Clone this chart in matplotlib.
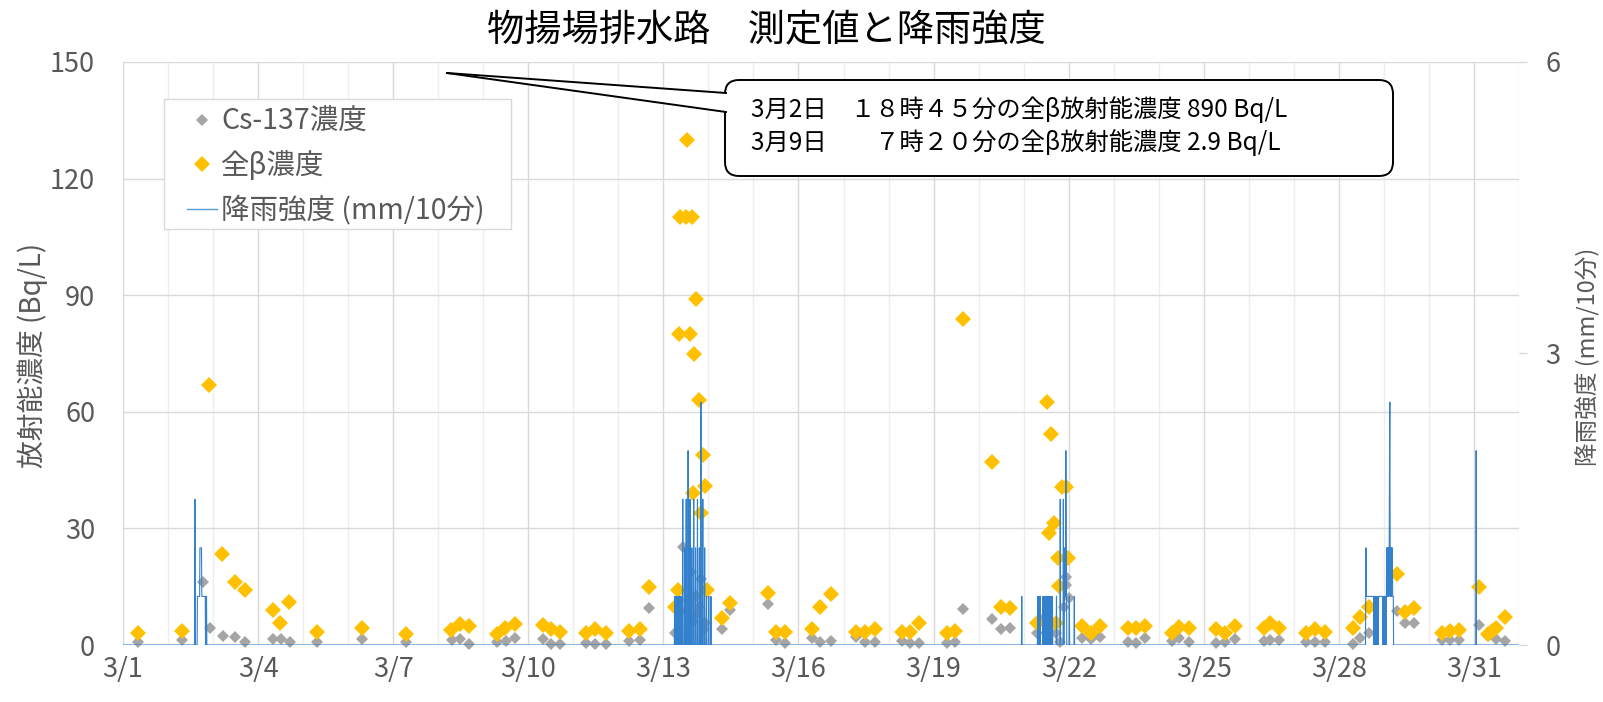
import numpy as np
import matplotlib.pyplot as plt
from matplotlib.lines import Line2D
from matplotlib.patches import FancyBboxPatch, Polygon, Rectangle
from matplotlib.transforms import IdentityTransform

plt.rcParams['font.family'] = ['Noto Sans CJK JP', 'DejaVu Sans']

W, H = 1603, 702

# x values are days since 3/1 00:00
tick_days = [0, 3, 6, 9, 12, 15, 18, 21, 24, 27, 30]
tick_labels = ['3/1', '3/4', '3/7', '3/10', '3/13', '3/16', '3/19', '3/22', '3/25', '3/28', '3/31']

# 全β濃度 (Bq/L)
beta_day = [0.33, 1.32, 1.92, 2.20, 2.49, 2.71, 3.32, 3.48, 3.69, 4.31, 5.30, 6.29,
            7.29, 7.48, 7.68, 8.31, 8.48, 8.71, 9.33, 9.51, 9.70, 10.29, 10.49, 10.72,
            11.23, 11.49, 11.69,
            12.25, 12.32, 12.34, 12.38, 12.51, 12.53, 12.58, 12.64, 12.65, 12.69, 12.73,
            12.78, 12.84, 12.87, 12.93, 12.97, 13.30, 13.48,
            14.32, 14.49, 14.70, 15.30, 15.48, 15.72, 16.28, 16.48, 16.71, 17.30, 17.48,
            17.68, 18.29, 18.48, 18.65, 19.29, 19.49, 19.70,
            20.29, 20.51, 20.57, 20.61, 20.68, 20.72, 20.77, 20.79, 20.85, 20.95, 20.99,
            21.30, 21.49, 21.69,
            22.31, 22.49, 22.70, 23.29, 23.45, 23.67, 24.27, 24.47, 24.70, 25.34, 25.46,
            25.67, 26.26, 26.47, 26.69, 27.31, 27.48, 27.68, 28.30, 28.47, 28.67, 29.28,
            29.46, 29.67, 30.11, 30.32, 30.40, 30.48, 30.69]
beta_val = [3.0, 3.7, 67, 23.3, 16.1, 14.1, 8.9, 5.7, 11.1, 3.3, 4.4, 2.9,
            3.9, 5.4, 5.0, 2.8, 4.3, 5.3, 5.1, 4.0, 3.4, 3.2, 4.0, 3.0,
            3.6, 4.1, 15.0,
            9.7, 14.1, 80, 110, 110, 130, 80, 110, 39, 75, 89,
            63, 34, 49, 41, 14.1, 6.9, 10.7,
            13.3, 3.4, 3.4, 4.1, 9.9, 13.1, 3.3, 3.4, 4.1, 3.4, 3.4,
            5.7, 3.0, 3.7, 84, 47, 9.9, 9.4,
            5.6, 62.5, 28.7, 54.4, 31.5, 5.6, 22.3, 15.3, 40.6, 40.6, 22.3,
            4.8, 3.2, 4.9,
            4.3, 4.3, 4.9, 3.2, 4.7, 4.3, 4.0, 3.2, 4.9, 4.5, 5.7,
            4.3, 3.0, 4.0, 3.4, 4.5, 7.1, 9.9, 18.2, 8.6, 9.4, 3.0,
            3.7, 3.9, 15.0, 2.8, 3.6, 4.4, 7.1]

# Cs-137濃度 (Bq/L)
cs_day = [0.33, 1.32, 1.78, 1.94, 2.21, 2.49, 2.71, 3.32, 3.50, 3.71, 4.31, 5.30, 6.29,
          7.31, 7.49, 7.68, 8.31, 8.50, 8.71, 9.33, 9.51, 9.70, 10.29, 10.49, 10.72,
          11.23, 11.49, 11.69,
          12.25, 12.43, 12.50, 12.55, 12.60, 12.62, 12.65, 12.70, 12.73, 12.78, 12.84,
          12.90, 12.92, 13.30, 13.48,
          14.32, 14.49, 14.70, 15.30, 15.48, 15.72, 16.28, 16.48, 16.71, 17.30, 17.48,
          17.68, 18.29, 18.48, 18.66, 19.29, 19.49, 19.70,
          20.29, 20.40, 20.72, 20.80, 20.90, 20.93, 20.95, 21.00, 21.30, 21.49, 21.69,
          22.31, 22.49, 22.70, 23.29, 23.45, 23.67, 24.27, 24.47, 24.70, 25.34, 25.46,
          25.67, 26.26, 26.47, 26.69, 27.31, 27.48, 27.68, 28.29, 28.47, 28.67, 29.28,
          29.46, 29.67, 30.11, 30.32, 30.48, 30.69]
cs_val = [0.9, 1.3, 16.1, 4.3, 2.3, 2.1, 0.9, 1.5, 1.5, 0.9, 0.9, 1.5, 0.9,
          1.3, 1.5, 0.2, 0.9, 1.1, 1.9, 1.5, 0.3, 0.3, 0.6, 0.2, 0.3,
          1.0, 1.3, 9.6,
          3.0, 25.2, 8.7, 11.7, 10.7, 18.9, 5.9, 7.7, 12.7, 9.9, 16.9,
          4.1, 5.6, 4.2, 9.0,
          10.5, 1.3, 0.4, 1.7, 0.7, 1.0, 2.0, 0.7, 0.7, 1.0, 0.4,
          0.4, 0.4, 0.7, 9.2, 6.6, 4.0, 4.4,
          3.0, 6.4, 3.0, 0.9, 9.9, 17.5, 15.4, 12.0, 1.7, 1.5, 2.0,
          0.9, 0.6, 1.7, 1.1, 1.9, 0.9, 0.6, 0.9, 1.5, 1.1, 1.3,
          1.3, 0.7, 0.9, 0.9, 0.3, 1.7, 3.0, 8.8, 5.6, 5.6, 1.3,
          1.3, 1.3, 5.1, 2.2, 1.5, 1.1]

# 降雨強度 (mm/10分): start day of each rain spell and its 10-minute values
rain_start = [1.60, 1.65, 12.25, 19.958, 20.31, 20.81, 27.597, 30.049]
rain_values = [
    [1.5],
    [0.5, 0.5, 0.5, 0.5, 0.5, 0.5, 0.5, 0.5, 1.0, 1.0, 1.0, 1.0, 1.0, 1.0, 0.5, 0.5,
     0.5, 0.5, 0.5, 0.5, 0.5, 0.5, 0.5, 0.5, 0.5, 0.5, 0, 0.5, 0, 0.5],
    [0.5, 0, 0.5, 0, 0, 0.5, 0, 0.5, 0, 0, 0.5, 0, 0.5, 0, 0, 0.5, 0, 0.5, 0, 0,
     0.5, 0, 0.5, 0, 0, 0.5,
     1.5, 0, 0, 0, 0, 0, 1.0, 0, 0, 0, 0, 1.5, 0, 0, 0, 0, 0, 2.0, 0, 0, 0, 0, 0,
     1.5, 0, 0, 0, 0, 0, 1.0, 0, 0, 0, 0, 0, 1.5, 0, 0, 0, 0, 0, 1.0, 0, 0, 0, 0, 0,
     1.5, 0, 0, 0, 0, 0, 1.0, 0, 0, 0, 0, 2.5, 0, 0, 0, 0, 0, 1.5, 0, 0, 0, 0, 0,
     1.0, 0, 0, 0, 0, 0, 0.5, 0, 0, 0, 0, 0, 0, 0.5, 0, 0, 0, 0, 0, 0, 0.5],
    [0.5],
    [0.5, 0, 0, 0.5, 0, 0, 0.5, 0, 0.5, 0, 0, 0, 0, 0, 0, 0, 0, 0.5, 0, 0, 0.5, 0.5,
     0, 0, 0.5, 0, 0, 0.5, 0, 0.5, 0, 0, 0.5, 0, 0, 0.5, 0.5, 0, 0, 0.5, 0, 0, 0.5, 0,
     0.5, 0, 0, 0.5, 0, 0, 0, 0, 0, 0, 0, 0, 0, 0, 0, 0, 0.5],
    [1.5, 0, 0, 0, 0, 0, 0, 0, 0, 0, 1.5, 0, 0, 0.5, 1.0, 1.0, 1.0, 0.5, 2.0, 1.0, 0.5,
     0, 0, 0, 0, 0, 0, 0, 0, 0.5, 0, 0, 0, 0, 0, 0, 0, 0, 0, 0, 0, 0, 0, 0, 0, 0.5],
    [0.5, 1.0, 0.5, 0.5, 0.5, 0.5, 0.5, 0.5, 0.5, 0.5, 0.5, 0.5, 0.5, 0.5, 0.5, 0.5,
     0.5, 0.5, 0.5, 0.5, 0.5, 0.5, 0.5, 0.5, 0.5, 0.5,
     0, 0.5, 0, 0.5, 0, 0.5, 0, 0.5, 0, 0.5, 0, 0.5, 0, 0.5, 0, 0.5,
     0.5, 0.5, 0.5, 0.5, 0.5, 0.5, 0.5, 0.5, 0.5, 0.5, 0.5, 0.5, 0.5,
     0, 0.5, 0, 0.5, 0, 0.5, 0, 0.5, 0, 0.5, 0, 0.5,
     1.0, 0.5, 1.0, 1.0, 0.5, 1.0, 1.0, 0.5, 1.0, 2.0, 2.5, 1.0, 0.5, 1.0, 1.0, 0.5,
     1.0, 1.0, 1.0, 0.5, 0.5, 0.5],
    [2.0],
]

steps = np.arange(0, 31 * 144 + 1)
rain_t = steps / 144
rain = np.zeros(len(steps))
for start, vals in zip(rain_start, rain_values):
    i0 = int(round(start * 144))
    rain[i0:i0 + len(vals)] = vals

gray_c = '#A5A5A5'
gold_c = '#FFC000'
rain_c = '#3380CC'
txt_c = '#595959'

fig = plt.figure(figsize=(W / 100, H / 100), dpi=100)
ax = fig.add_axes([123 / W, 1 - 645 / H, (1519 - 123) / W, (645 - 62) / H])
ax2 = ax.twinx()

ax.plot(cs_day, cs_val, ls='none', marker='D', ms=6.5, mew=0, color=gray_c, clip_on=False, zorder=3)
ax.plot(beta_day, beta_val, ls='none', marker='D', ms=8, mew=0, color=gold_c, clip_on=False, zorder=4)
ax2.plot(rain_t, rain, color=rain_c, lw=0.8)

ax.set_xlim(0, 31)
ax.set_ylim(0, 150)
ax2.set_ylim(0, 6)
ax.set_yticks([0, 30, 60, 90, 120, 150])
ax2.set_yticks([0, 3, 6])
ax.set_xticks(tick_days)
ax.set_xticklabels(tick_labels)
ax.set_xticks(np.arange(0, 32), minor=True)

ax.grid(True, which='major', color='#D9D9D9', lw=1)
ax.grid(True, which='minor', axis='x', color='#EEEEEE', lw=1)
ax.set_axisbelow(True)

for a in (ax, ax2):
    for s in a.spines.values():
        s.set_visible(False)

ax.tick_params(axis='x', which='both', length=0, pad=8, labelsize=19.5, labelcolor=txt_c)
ax.tick_params(axis='y', length=0, pad=20, labelsize=19.5, labelcolor=txt_c)
ax2.tick_params(axis='y', length=6, width=1, color='#D9D9D9', pad=13, labelsize=19.5, labelcolor=txt_c)

fig.text(33 / W, 1 - 355 / H, '放射能濃度 (Bq/L)', rotation=90, ha='center', va='center',
         fontsize=20, color=txt_c)
fig.text(1587 / W, 1 - 357 / H, '降雨強度 (mm/10分)', rotation=90, ha='center', va='center',
         fontsize=17, color=txt_c)
fig.text(766 / W, 1 - 31 / H, '物揚場排水路　測定値と降雨強度', ha='center', va='center',
         fontsize=26.8, color='black')

# legend: frame drawn separately so the inner margins match
fig.add_artist(Rectangle((163.5, H - 229), 347, 130, transform=IdentityTransform(),
                         fc='white', ec='#D9D9D9', lw=1, zorder=4))
handles = [Line2D([], [], ls='none', marker='D', ms=6.5, mew=0, color=gray_c),
           Line2D([], [], ls='none', marker='D', ms=8, mew=0, color=gold_c),
           Line2D([], [], color='#5B9BD5', lw=1.0)]
leg = fig.legend(handles, ['Cs-137濃度', '全β濃度', '降雨強度 (mm/10分)'],
                 loc='upper left', bbox_to_anchor=(187 / W, 1 - 107 / H),
                 fontsize=20.5, frameon=False, handlelength=1.05, handletextpad=0.15,
                 labelspacing=0.5, borderpad=0, borderaxespad=0)
leg.set_zorder(5)
for t in leg.get_texts():
    t.set_color(txt_c)

# callout
box = FancyBboxPatch((725, H - 176), 668, 96, boxstyle='round,pad=0,rounding_size=14',
                     transform=IdentityTransform(), fc='white', ec='black', lw=1.4, zorder=6)
fig.add_artist(box)
tip = (447, H - 73)
p1 = (726, H - 93)
p2 = (726, H - 112)
fig.add_artist(Polygon([tip, p1, p2], closed=True, transform=IdentityTransform(),
                       fc='white', ec='none', zorder=7))
fig.add_artist(Line2D([tip[0], p1[0]], [tip[1], p1[1]], transform=IdentityTransform(),
                      color='black', lw=1.4, zorder=8))
fig.add_artist(Line2D([tip[0], p2[0]], [tip[1], p2[1]], transform=IdentityTransform(),
                      color='black', lw=1.4, zorder=8))
fig.text(751 / W, 1 - 110 / H, '3月2日　１８時４５分の全β放射能濃度 890 Bq/L',
         ha='left', va='center', fontsize=17.5, color='black', zorder=9)
fig.text(751 / W, 1 - 143 / H, '3月9日　　７時２０分の全β放射能濃度 2.9 Bq/L',
         ha='left', va='center', fontsize=17.5, color='black', zorder=9)

fig.savefig('out.png', dpi=100)
